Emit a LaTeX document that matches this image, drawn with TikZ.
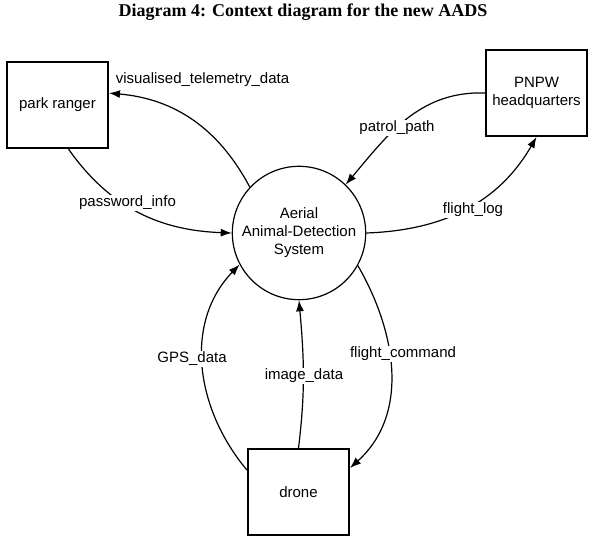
\documentclass[tikz,border=0pt]{standalone}
\usepackage{fontspec}
\setmainfont{Liberation Sans}
\newfontfamily\titlefont{Liberation Serif}
\usepackage{tikz}
\usetikzlibrary{arrows.meta}
\usetikzlibrary{shapes}
\tikzset{>=latex}
\tikzstyle{ext} = [rectangle, draw=black, line width=2pt, minimum width=101pt, minimum height=86pt]
\tikzstyle{flow} = [-{Latex[length=11pt, width=8pt]}, line width=1.2pt]
\tikzstyle{lbl} = [fill=white, inner sep=1pt]

\begin{document}
\begin{tikzpicture}[x=1pt, y=1pt, font=\fontsize{15}{18}\selectfont]
\useasboundingbox (0, 0) rectangle (593, 546);
\node [font=\titlefont\bfseries\fontsize{18}{20}\selectfont] (T) at (303, 534) {Diagram 4: Context diagram for the new AADS};
\node [ext] (R) at (57.5, 441) {park ranger};
\node [ext, align=center] (H) at (536.5, 453) {PNPW\\headquarters};
\node [circle, draw=black, line width=1.2pt, minimum size=124pt, align=center] (S) at (299, 313) {Aerial\\Animal-Detection\\System};
\node [ext] (D) at (298.5, 54) {drone};
\draw [flow] (S.137) to [out=118, in=-5] (R.13);
\draw [flow] (R.-76) to [out=-55, in=178] (S.west);
\draw [flow] (H.west) to [out=178, in=50] (S.46);
\draw [flow] (S.east) to [out=2, in=-120] (H.south);
\draw [flow] (D.157) to [out=130, in=-134] (S.208);
\draw [flow] (D.north) to [out=83, in=-85] (S.south);
\draw [flow] (S.-29) to [out=-60, in=42] (D.25);
% labels on the flows
\node [lbl] (vt) at (202.5, 466) {visualised\_telemetry\_data};
\node [lbl] (pw) at (127.5, 343) {password\_info};
\node [lbl] (pp) at (397, 418) {patrol\_path};
\node [lbl] (fl) at (473, 336) {flight\_log};
\node [lbl] (gps) at (192, 187) {GPS\_data};
\node [lbl] (img) at (304, 170) {image\_data};
\node [lbl] (fc) at (403, 192) {flight\_command};
\end{tikzpicture}
\end{document}
